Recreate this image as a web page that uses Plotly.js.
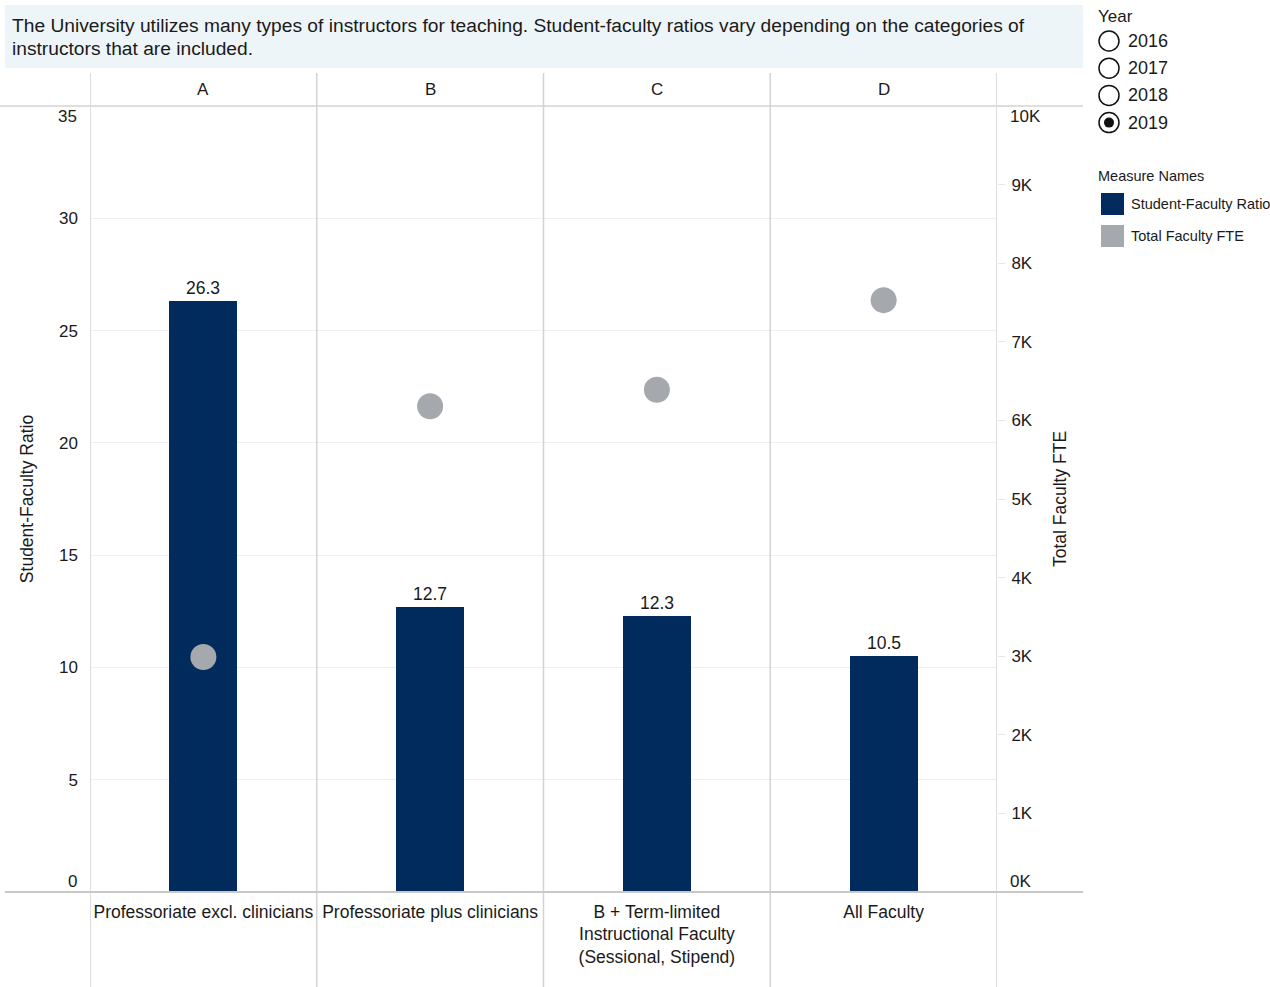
<!DOCTYPE html>
<html>
<head>
<meta charset="utf-8">
<script src="https://cdn.plot.ly/plotly-3.0.1.min.js"></script>
<style>html,body{margin:0;padding:0;background:#fff;}#chart{width:1270px;height:987px;}</style>
</head>
<body>
<div id="chart"></div>
<script>
// ---- data ----
const panelHeaders = ['A', 'B', 'C', 'D'];
const categories = [
  'Professoriate excl. clinicians',
  'Professoriate plus clinicians',
  'B + Term-limited<br>Instructional Faculty<br>(Sessional, Stipend)',
  'All Faculty'
];
const studentFacultyRatio = [26.3, 12.7, 12.3, 10.5];
const totalFacultyFTE = [2990, 6180, 6390, 7530];
const ratioTicks = [0, 5, 10, 15, 20, 25, 30, 35];
const ratioTickText = ['0', '5', '10', '15', '20', '25', '30', '35'];
const fteTickVals = [0, 1000, 2000, 3000, 4000, 5000, 6000, 7000, 8000, 9000, 10000];
const fteTickText = ['0K', '1K', '2K', '3K', '4K', '5K', '6K', '7K', '8K', '9K', '10K'];
const years = ['2016', '2017', '2018', '2019'];
const selectedYear = '2019';
const measureNames = ['Student-Faculty Ratio', 'Total Faculty FTE'];
const titleLines = [
  'The University utilizes many types of instructors for teaching. Student-faculty ratios vary depending on the categories of',
  'instructors that are included.'
];

// ---- layout helpers ----
const W = 1270, H = 987;
const L = 90, R = 997, T = 106, B = 892;
const px = x => (x - L) / (R - L);
const py = y => (B - y) / (B - T);
const NAVY = '#002b5c', GREY = '#a5a9ad', LINE = '#d3d3d3';
const FONT = 'Liberation Sans, Arial, sans-serif';
const TXT = '#1a1a1a';

const traces = [
  {
    type: 'bar', x: categories, y: studentFacultyRatio, name: measureNames[0],
    width: 0.3, marker: {color: NAVY},
    text: studentFacultyRatio.map(v => v.toFixed(1)), textposition: 'outside',
    textfont: {size: 17.5, color: TXT, family: FONT}, cliponaxis: false,
    hoverinfo: 'x+y'
  },
  {
    type: 'scatter', mode: 'markers', x: categories, y: totalFacultyFTE, yaxis: 'y2',
    name: measureNames[1], marker: {size: 26, color: GREY}, cliponaxis: false
  }
];

const shapes = [];
const annotations = [];

// title background
shapes.push({type: 'rect', xref: 'paper', yref: 'paper', x0: px(5), x1: px(1083), y0: py(68), y1: py(5),
  fillcolor: '#eef5f9', line: {width: 0}, layer: 'below'});
titleLines.forEach((t, i) => {
  annotations.push({xref: 'paper', yref: 'paper', x: px(10), y: py(26 + i * 22), text: t, showarrow: false,
    xanchor: 'left', yanchor: 'middle', font: {size: 19.2, color: TXT, family: FONT}});
});
// panel separators
for (let i = 0; i <= categories.length; i++) {
  shapes.push({type: 'line', xref: 'x', yref: 'paper', x0: i - 0.5, x1: i - 0.5, y0: py(987), y1: py(73),
    line: {color: LINE, width: 1.5}});
}
// header bottom line and baseline
shapes.push({type: 'line', xref: 'paper', yref: 'paper', x0: px(0), x1: px(1083), y0: py(106), y1: py(106),
  line: {color: LINE, width: 1.5}});
shapes.push({type: 'line', xref: 'paper', yref: 'paper', x0: px(5), x1: px(1083), y0: py(892), y1: py(892),
  line: {color: '#c8c8c8', width: 2}});

// panel headers
panelHeaders.forEach((h, i) => {
  annotations.push({xref: 'x', yref: 'paper', x: categories[i], y: py(89), text: h, showarrow: false,
    xanchor: 'center', yanchor: 'middle', font: {size: 17, color: TXT, family: FONT}});
});

// end tick labels shifted inward (Tableau style)
const lastR = ratioTicks.length - 1, lastF = fteTickVals.length - 1;
annotations.push({xref: 'paper', yref: 'y', x: px(79), y: ratioTicks[0], text: ratioTickText[0], showarrow: false,
  xanchor: 'right', yanchor: 'middle', yshift: 11, font: {size: 17, color: TXT, family: FONT}});
annotations.push({xref: 'paper', yref: 'y', x: px(79), y: ratioTicks[lastR], text: ratioTickText[lastR], showarrow: false,
  xanchor: 'right', yanchor: 'middle', yshift: -10, font: {size: 17, color: TXT, family: FONT}});
annotations.push({xref: 'paper', yref: 'y2', x: px(1008), y: fteTickVals[0], text: fteTickText[0], showarrow: false,
  xanchor: 'left', yanchor: 'middle', yshift: 11, font: {size: 17, color: TXT, family: FONT}});
annotations.push({xref: 'paper', yref: 'y2', x: px(1008), y: fteTickVals[lastF], text: fteTickText[lastF], showarrow: false,
  xanchor: 'left', yanchor: 'middle', yshift: -10, font: {size: 17, color: TXT, family: FONT}});

// Year radio filter
annotations.push({xref: 'paper', yref: 'paper', x: px(1096), y: py(17), text: 'Year', showarrow: false,
  xanchor: 'left', yanchor: 'middle', font: {size: 17, color: TXT, family: FONT}});
years.forEach((yr, i) => {
  const cy = 41 + i * 27.2;
  shapes.push({type: 'circle', xref: 'paper', yref: 'paper', x0: px(1099), x1: px(1119), y0: py(cy + 10), y1: py(cy - 10),
    line: {color: '#111', width: 1.5}, fillcolor: 'rgba(0,0,0,0)'});
  if (yr === selectedYear) {
    shapes.push({type: 'circle', xref: 'paper', yref: 'paper', x0: px(1104), x1: px(1114), y0: py(cy + 5), y1: py(cy - 5),
      line: {width: 0}, fillcolor: '#111'});
  }
  annotations.push({xref: 'paper', yref: 'paper', x: px(1126), y: py(cy), text: yr, showarrow: false,
    xanchor: 'left', yanchor: 'middle', font: {size: 18, color: TXT, family: FONT}});
});

// Measure Names legend
annotations.push({xref: 'paper', yref: 'paper', x: px(1096), y: py(176), text: 'Measure Names', showarrow: false,
  xanchor: 'left', yanchor: 'middle', font: {size: 14.5, color: TXT, family: FONT}});
[NAVY, GREY].forEach((c, i) => {
  const cy = 204 + i * 32;
  shapes.push({type: 'rect', xref: 'paper', yref: 'paper', x0: px(1101), x1: px(1124), y0: py(cy + 11), y1: py(cy - 11),
    fillcolor: c, line: {width: 0}});
  annotations.push({xref: 'paper', yref: 'paper', x: px(1129), y: py(cy), text: measureNames[i], showarrow: false,
    xanchor: 'left', yanchor: 'middle', font: {size: 14.5, color: TXT, family: FONT}});
});

// hide the end labels in the axes themselves (drawn above)
const ratioAxisText = ratioTickText.map((t, i) => (i === 0 || i === lastR) ? '' : t);
const fteAxisText = fteTickText.map((t, i) => (i === 0 || i === lastF) ? '' : t);

const layout = {
  width: W, height: H,
  margin: {l: L, r: W - R, t: T, b: H - B, pad: 0},
  paper_bgcolor: '#fff', plot_bgcolor: '#fff',
  font: {family: FONT, color: TXT, size: 17},
  showlegend: false,
  bargap: 0,
  xaxis: {type: 'category', range: [-0.5, categories.length - 0.5], showgrid: false, zeroline: false,
    showline: false, ticks: '', tickfont: {size: 17.5, color: TXT}, ticklabelstandoff: 7, fixedrange: true},
  yaxis: {range: [0, 35], tickvals: ratioTicks, ticktext: ratioAxisText, showgrid: true, gridcolor: '#efefef', gridwidth: 1,
    zeroline: false, showline: false, ticks: '', tickfont: {size: 17, color: TXT}, ticklabelstandoff: 11,
    title: {text: 'Student-Faculty Ratio', font: {size: 17.5, color: TXT}, standoff: 20}, fixedrange: true},
  yaxis2: {overlaying: 'y', side: 'right', range: [0, 10000], tickvals: fteTickVals, ticktext: fteAxisText,
    showgrid: false, zeroline: false, showline: false, ticks: 'outside', ticklen: 7, tickcolor: '#e6e6e6',
    tickfont: {size: 17, color: TXT}, ticklabelstandoff: 3,
    title: {text: 'Total Faculty FTE', font: {size: 17.5, color: TXT}, standoff: 21}, fixedrange: true},
  shapes: shapes,
  annotations: annotations
};

Plotly.newPlot('chart', traces, layout, {displayModeBar: false, responsive: false});
</script>
</body>
</html>
